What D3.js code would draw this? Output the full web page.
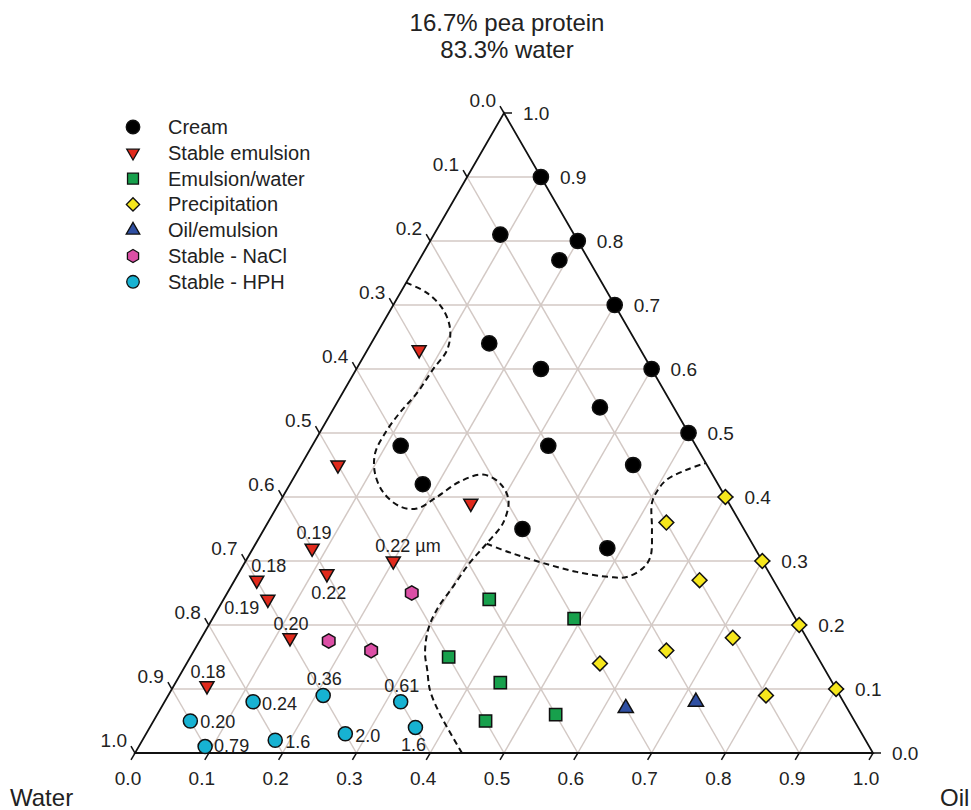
<!DOCTYPE html>
<html>
<head>
<meta charset="utf-8">
<script src="https://cdn.jsdelivr.net/npm/d3@7"></script>
<style>
  body { margin: 0; background: #fff; }
  svg { display: block; font-family: Arial, "Liberation Sans", sans-serif; }
</style>
</head>
<body>
<div id="chart"></div>
<script>
// ternary data, each point is [water, oil, solution] (solution = 16.7% pea protein / 83.3% water)
const cream = [
  [0.00, 0.10, 0.90], [0.10, 0.09, 0.81], [0.00, 0.20, 0.80], [0.04, 0.19, 0.77],
  [0.00, 0.30, 0.70], [0.20, 0.16, 0.64], [0.15, 0.25, 0.60], [0.00, 0.40, 0.60],
  [0.10, 0.36, 0.54], [0.00, 0.50, 0.50], [0.10, 0.45, 0.45], [0.20, 0.32, 0.48],
  [0.40, 0.12, 0.48], [0.40, 0.18, 0.42], [0.30, 0.35, 0.35], [0.20, 0.48, 0.32]
];
const stableEmulsion = [
  [0.30, 0.07, 0.63], [0.50, 0.05, 0.45], [0.35, 0.26, 0.39], [0.60, 0.08, 0.32],
  [0.50, 0.20, 0.30], [0.70, 0.03, 0.27], [0.60, 0.12, 0.28], [0.70, 0.06, 0.24],
  [0.70, 0.12, 0.18], [0.85, 0.045, 0.105]
];
const stableEmulsionLabels = [null, null, null, "0.19", "0.22 µm", "0.18", "0.22", "0.19", "0.20", "0.18"];
const emulsionWater = [
  [0.40, 0.36, 0.24], [0.30, 0.49, 0.21], [0.50, 0.35, 0.15],
  [0.45, 0.44, 0.11], [0.50, 0.45, 0.05], [0.40, 0.54, 0.06]
];
const precipitation = [
  [0.00, 0.60, 0.40], [0.10, 0.54, 0.36], [0.00, 0.70, 0.30], [0.10, 0.63, 0.27],
  [0.00, 0.80, 0.20], [0.10, 0.72, 0.18], [0.30, 0.56, 0.14], [0.20, 0.64, 0.16],
  [0.10, 0.81, 0.09], [0.00, 0.90, 0.10]
];
const oilEmulsion = [[0.30, 0.63, 0.07], [0.20, 0.72, 0.08]];
const stableNaCl = [[0.50, 0.25, 0.25], [0.65, 0.175, 0.175], [0.60, 0.24, 0.16]];
const stableHPH = [
  [0.80, 0.12, 0.08], [0.70, 0.21, 0.09], [0.60, 0.32, 0.08], [0.60, 0.36, 0.04],
  [0.90, 0.05, 0.05], [0.90, 0.09, 0.01], [0.80, 0.18, 0.02], [0.70, 0.27, 0.03]
];
const stableHPHLabels = ["0.24", "0.36", "0.61", "1.6", "0.20", "0.79", "1.6", "2.0"];

// phase boundaries (dashed), [oil, solution]
const boundaryA = [
  [0.000, 0.735], [0.036, 0.719], [0.071, 0.693], [0.096, 0.662], [0.108, 0.630],
  [0.104, 0.599], [0.101, 0.563], [0.093, 0.532], [0.089, 0.500], [0.091, 0.469],
  [0.106, 0.438], [0.133, 0.407], [0.167, 0.385], [0.191, 0.382], [0.209, 0.400],
  [0.228, 0.424], [0.254, 0.435], [0.283, 0.422], [0.308, 0.396], [0.319, 0.360],
  [0.313, 0.328], [0.305, 0.297], [0.301, 0.260], [0.297, 0.224], [0.301, 0.192],
  [0.315, 0.156], [0.331, 0.130], [0.350, 0.099], [0.377, 0.067], [0.402, 0.041],
  [0.443, 0.000]
];
const boundaryB = [
  [0.313, 0.327], [0.352, 0.313], [0.404, 0.297], [0.457, 0.283], [0.506, 0.275],
  [0.529, 0.275], [0.544, 0.289], [0.545, 0.307], [0.526, 0.349], [0.505, 0.391],
  [0.503, 0.411], [0.507, 0.427], [0.527, 0.443], [0.547, 0.453]
];

const tickValues = [0, 0.1, 0.2, 0.3, 0.4, 0.5, 0.6, 0.7, 0.8, 0.9, 1.0];
const titleLines = ["16.7% pea protein", "83.3% water"];
const legendNames = ["Cream", "Stable emulsion", "Emulsion/water", "Precipitation",
                     "Oil/emulsion", "Stable - NaCl", "Stable - HPH"];

const width = 971, height = 810;
const plotLeft = 135, plotRight = 873, plotBottom = 753, plotTop = 113;

const svg = d3.select("#chart").append("svg")
  .attr("width", width).attr("height", height);

// scales: x along the base (oil + solution/2), y for solution fraction
const xScale = d3.scaleLinear().domain([0, 1]).range([plotLeft, plotRight]);
const yScale = d3.scaleLinear().domain([0, 1]).range([plotBottom, plotTop]);
const px = (oil, sol) => xScale(oil + sol / 2);
const py = (sol) => yScale(sol);

// grid
const gridColor = "#d3c9c5";
const grid = svg.append("g").attr("stroke", gridColor).attr("stroke-width", 1.5);
tickValues.slice(1, -1).forEach(k => {
  // solution = k (horizontal)
  grid.append("line").attr("x1", px(0, k)).attr("y1", py(k)).attr("x2", px(1 - k, k)).attr("y2", py(k));
  // oil = k
  grid.append("line").attr("x1", px(k, 0)).attr("y1", py(0)).attr("x2", px(k, 1 - k)).attr("y2", py(1 - k));
  // water = k
  grid.append("line").attr("x1", px(1 - k, 0)).attr("y1", py(0)).attr("x2", px(0, 1 - k)).attr("y2", py(1 - k));
});

// boundaries
const line = d3.line().x(d => px(d[0], d[1])).y(d => py(d[1])).curve(d3.curveCatmullRom.alpha(0.5));
[boundaryA, boundaryB].forEach(b => {
  svg.append("path").attr("d", line(b)).attr("fill", "none")
    .attr("stroke", "#111").attr("stroke-width", 2).attr("stroke-dasharray", "6,4");
});

// triangle outline
svg.append("path")
  .attr("d", `M${px(0, 0)},${py(0)} L${px(1, 0)},${py(0)} L${px(0, 1)},${py(1)} Z`)
  .attr("fill", "none").attr("stroke", "#111").attr("stroke-width", 1.8);

// ticks and tick labels
const tl = 8, c30 = 0.5, s60 = 0.866;
const axes = svg.append("g").attr("stroke", "#111").attr("stroke-width", 1.5);
const labels = svg.append("g").attr("font-size", 19).attr("fill", "#222");
tickValues.forEach(v => {
  const f = d3.format(".1f")(v);
  // bottom: oil
  let x = px(v, 0), y = py(0);
  axes.append("line").attr("x1", x).attr("y1", y).attr("x2", x - tl * c30).attr("y2", y + tl * s60);
  labels.append("text").attr("x", x - 7).attr("y", y + 32).attr("text-anchor", "middle").text(f);
  // right: solution
  x = px(1 - v, v); y = py(v);
  axes.append("line").attr("x1", x).attr("y1", y).attr("x2", x + tl).attr("y2", y);
  labels.append("text").attr("x", x + 19).attr("y", y + 7).attr("text-anchor", "start").text(f);
  // left: water
  x = px(0, 1 - v); y = py(1 - v);
  axes.append("line").attr("x1", x).attr("y1", y).attr("x2", x - tl * c30).attr("y2", y - tl * s60);
  labels.append("text").attr("x", x - 8).attr("y", y - 6).attr("text-anchor", "end").text(f);
});

// axis names and title
svg.append("text").attr("x", 10).attr("y", 806).attr("font-size", 24).attr("fill", "#222").text("Water");
svg.append("text").attr("x", 940).attr("y", 806).attr("font-size", 24).attr("fill", "#222").text("Oil");
titleLines.forEach((t, i) => {
  svg.append("text").attr("x", 507).attr("y", 31 + i * 27).attr("text-anchor", "middle")
    .attr("font-size", 24).attr("fill", "#222").text(t);
});

// marker styles
const hexagon = {
  draw(ctx, size) {
    const r = Math.sqrt(size / (1.5 * Math.sqrt(3)));
    for (let i = 0; i < 6; i++) {
      const a = Math.PI / 6 + i * Math.PI / 3;
      if (i === 0) ctx.moveTo(r * Math.cos(a), r * Math.sin(a));
      else ctx.lineTo(r * Math.cos(a), r * Math.sin(a));
    }
    ctx.closePath();
  }
};
const series = [
  { data: cream, type: d3.symbolCircle, size: 180, fill: "#000", rot: 0 },
  { data: stableEmulsion, type: d3.symbolTriangle, size: 85, fill: "#e02a1c", rot: 180 },
  { data: emulsionWater, type: d3.symbolSquare, size: 150, fill: "#17a04c", rot: 0 },
  { data: precipitation, type: d3.symbolSquare, size: 110, fill: "#f6e71c", rot: 45 },
  { data: oilEmulsion, type: d3.symbolTriangle, size: 100, fill: "#2f4fa2", rot: 0 },
  { data: stableNaCl, type: hexagon, size: 135, fill: "#dc4fa6", rot: 0 },
  { data: stableHPH, type: d3.symbolCircle, size: 155, fill: "#17b2d2", rot: 0 }
];

series.forEach(s => {
  svg.append("g").selectAll("path").data(s.data).join("path")
    .attr("d", d3.symbol().type(s.type).size(s.size))
    .attr("transform", d => `translate(${px(d[1], d[2])},${py(d[2])}) rotate(${s.rot})`)
    .attr("fill", s.fill).attr("stroke", "#111").attr("stroke-width", 1.5);
});

// size labels (offsets relative to each marker)
const emulsionLabelPos = [null, null, null, [2, -15, "middle"], [-18, -15, "start"], [12, -14, "middle"],
                          [2, 19, "middle"], [-26, 9, "middle"], [1, -14, "middle"], [1, -14, "middle"]];
const hphLabelPos = [[9, 2, "start"], [1, -16, "middle"], [1, -16, "middle"], [-2, 18, "middle"],
                     [10, 1, "start"], [9, -1, "start"], [10, 2, "start"], [10, 2, "start"]];
const sizeLabels = svg.append("g").attr("font-size", 18).attr("fill", "#222")
  .attr("dominant-baseline", "central");
stableEmulsion.forEach((d, i) => {
  if (!stableEmulsionLabels[i]) return;
  const o = emulsionLabelPos[i];
  sizeLabels.append("text").attr("x", px(d[1], d[2]) + o[0]).attr("y", py(d[2]) + o[1])
    .attr("text-anchor", o[2]).text(stableEmulsionLabels[i]);
});
stableHPH.forEach((d, i) => {
  const o = hphLabelPos[i];
  sizeLabels.append("text").attr("x", px(d[1], d[2]) + o[0]).attr("y", py(d[2]) + o[1])
    .attr("text-anchor", o[2]).text(stableHPHLabels[i]);
});

// legend
const legend = svg.append("g").attr("transform", "translate(133,127)");
series.forEach((s, i) => {
  const g = legend.append("g").attr("transform", `translate(0,${i * 25.8})`);
  g.append("path").attr("d", d3.symbol().type(s.type).size(s.size * 0.8))
    .attr("transform", `rotate(${s.rot})`)
    .attr("fill", s.fill).attr("stroke", "#111").attr("stroke-width", 1.3);
  g.append("text").attr("x", 35).attr("y", 0).attr("dominant-baseline", "central")
    .attr("font-size", 20).attr("fill", "#222").text(legendNames[i]);
});
</script>
</body>
</html>
